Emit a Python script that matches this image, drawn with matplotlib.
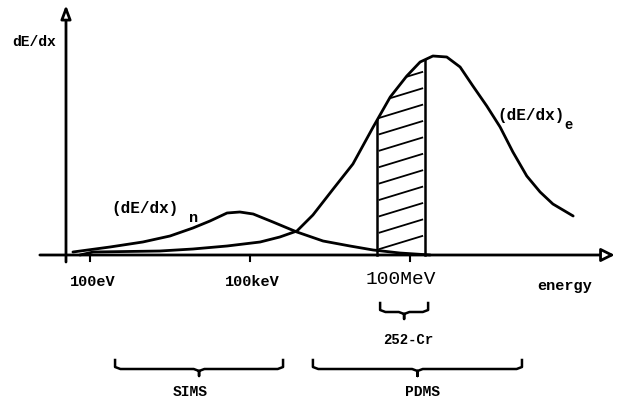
import numpy as np
import matplotlib
matplotlib.use("Agg")
import matplotlib.pyplot as plt

# energy axis: log10(E / eV), stopping power in relative units
elec_logE = [1.81, 2.06, 3.31, 3.93, 4.57, 5.19, 5.56, 5.88, 6.18, 6.56, 6.93, 7.31,
             7.63, 7.94, 8.19, 8.43, 8.69, 8.94, 9.18, 9.44, 9.69, 9.93, 10.19,
             10.44, 10.68, 11.06]
elec_dedx = [0.0, 0.015, 0.02, 0.03, 0.045, 0.065, 0.09, 0.12, 0.2, 0.33, 0.455,
             0.64, 0.79, 0.895, 0.965, 0.995, 0.99, 0.94, 0.845, 0.745, 0.64, 0.515,
             0.395, 0.315, 0.255, 0.195]

nucl_logE = [1.68, 2.375, 2.99, 3.5, 3.93, 4.25, 4.57, 4.81, 5.06, 5.43, 5.88, 6.37,
             6.875, 7.31, 7.81, 8.38]
nucl_dedx = [0.015, 0.04, 0.065, 0.095, 0.135, 0.17, 0.21, 0.215, 0.205, 0.165,
             0.115, 0.07, 0.045, 0.025, 0.01, 0.0]

tick_logE = [2, 5, 8]
tick_labels = ["100eV", "100keV", "100MeV"]

cf_range = [7.38, 8.28]          # 252-Cf fission fragments (hatched)
sims_range = [2.47, 5.62]
pdms_range = [6.18, 10.10]
cf_brace = [7.44, 8.34]

mono = "Liberation Mono"

fig = plt.figure(figsize=(6.17, 4.06), dpi=100)
ax = fig.add_axes([0, 0, 1, 1])
ax.set_xlim(0.3125, 11.882)
ax.set_ylim(-0.75, 1.28)
ax.axis("off")

# axes with arrows
ax.annotate("", xy=(11.84, 0), xytext=(1.06, 0),
            arrowprops=dict(arrowstyle="-|>,head_length=0.8,head_width=0.4",
                            fc="white", ec="black", lw=2.0, shrinkA=0, shrinkB=0))
ax.annotate("", xy=(1.55, 1.25), xytext=(1.55, -0.035),
            arrowprops=dict(arrowstyle="-|>,head_length=0.8,head_width=0.3",
                            fc="white", ec="black", lw=2.0, shrinkA=0, shrinkB=0))
for t in tick_logE:
    ax.plot([t, t], [0, -0.03], color="black", lw=1.5)

# curves
ax.plot(elec_logE, elec_dedx, color="black", lw=2.0,
        solid_capstyle="round", solid_joinstyle="round")
ax.plot(nucl_logE, nucl_dedx, color="black", lw=2.0,
        solid_capstyle="round", solid_joinstyle="round")

# hatched region under (dE/dx)e
x_in = [x for x in elec_logE if cf_range[0] < x < cf_range[1]]
y_in = [y for x, y in zip(elec_logE, elec_dedx) if cf_range[0] < x < cf_range[1]]
y_left = np.interp(cf_range[0], elec_logE, elec_dedx)
y_right = np.interp(cf_range[1], elec_logE, elec_dedx)
px = [cf_range[0], cf_range[0]] + x_in + [cf_range[1], cf_range[1]]
py = [0, y_left] + y_in + [y_right, 0]
region = ax.fill(px, py, facecolor="none", edgecolor="none")[0]
ax.plot([cf_range[0]] * 2, [0, y_left], color="black", lw=1.8)
ax.plot([cf_range[1]] * 2, [0, y_right], color="black", lw=1.8)
for y0 in np.arange(0.03, 1.0, 0.082):
    ln, = ax.plot([cf_range[0] + 0.05, cf_range[1] - 0.05], [y0, y0 + 0.065],
                  color="black", lw=1.3)
    ln.set_clip_path(region)


def brace(x0, x1, y, ax):
    xm = (x0 + x1) / 2
    d = 0.1
    xs = [x0, x0, x0 + d, xm - d, xm, xm, xm, xm + d, x1 - d, x1, x1]
    ys = [y + 0.045, y + 0.01, y, y, y - 0.01, y - 0.035, y - 0.01, y, y, y + 0.01, y + 0.045]
    ax.plot(xs, ys, color="black", lw=1.8, solid_joinstyle="round")


brace(sims_range[0], sims_range[1], -0.57, ax)
brace(pdms_range[0], pdms_range[1], -0.57, ax)
brace(cf_brace[0], cf_brace[1], -0.285, ax)

# text
bold = dict(family=mono, fontweight="bold", color="black")
ax.text(0.95, 1.07, "dE/dx", ha="center", va="center", fontsize=10.5, **bold)
for t, lab in zip(tick_logE, tick_labels):
    if lab == "100MeV":
        ax.text(t - 0.17, -0.115, lab, ha="center", va="center", fontsize=14,
                family=mono, color="black")
    else:
        ax.text(t + 0.05, -0.13, lab, ha="center", va="center", fontsize=11, **bold)
ax.text(10.9, -0.15, "energy", ha="center", va="center", fontsize=11, **bold)
ax.text(2.41, 0.24, "(dE/dx)", ha="left", va="center", fontsize=11.5, **bold)
ax.text(3.86, 0.19, "n", ha="left", va="center", fontsize=11, **bold)
ax.text(9.63, 0.705, "(dE/dx)", ha="left", va="center", fontsize=11.5, **bold)
ax.text(10.9, 0.655, "e", ha="left", va="center", fontsize=10, **bold)
ax.text(7.96, -0.42, "252-Cr", ha="center", va="center", fontsize=10, **bold)
ax.text(3.87, -0.68, "SIMS", ha="center", va="center", fontsize=10.5, **bold)
ax.text(8.23, -0.68, "PDMS", ha="center", va="center", fontsize=10.5, **bold)

fig.savefig("out.png", dpi=100, facecolor="white")
